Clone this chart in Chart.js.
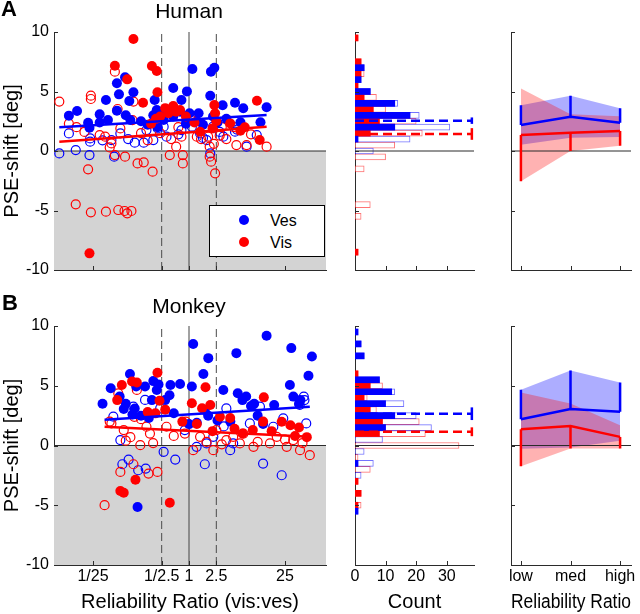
<!DOCTYPE html>
<html>
<head>
<meta charset="utf-8">
<script src="https://cdn.jsdelivr.net/npm/chart.js@4.4.0/dist/chart.umd.min.js"></script>
<style>
  body { margin: 0; background: #fff; font-family: "Liberation Sans", Arial, sans-serif; }
  #fig { position: relative; width: 640px; height: 614px; overflow: hidden; }
  #fig canvas { position: absolute; }
  .lbl { position: absolute; white-space: nowrap; line-height: 1; color: #000; }
  .legend { position: absolute; left: 209px; top: 205px; width: 116px; height: 52px;
            box-sizing: border-box; border: 1px solid #000; background: #fff; }
  .legend .dot { position: absolute; width: 10px; height: 10px; border-radius: 50%; }
  .legend .txt { position: absolute; font-size: 16px; line-height: 1; }
</style>
</head>
<body>
<div id="fig">
  <canvas id="scatterA" width="335" height="290" style="left:0;top:0"></canvas>
  <canvas id="histA" width="150" height="290" style="left:335px;top:0"></canvas>
  <canvas id="sumA" width="155" height="290" style="left:485px;top:0"></canvas>
  <canvas id="scatterB" width="335" height="324" style="left:0;top:290px"></canvas>
  <canvas id="histB" width="150" height="324" style="left:335px;top:290px"></canvas>
  <canvas id="sumB" width="155" height="324" style="left:485px;top:290px"></canvas>

  <div class="lbl" style="left:1px;top:-2px;font-size:22px;font-weight:bold">A</div>
  <div class="lbl" style="left:189px;top:0;font-size:21px;transform:translateX(-50%)">Human</div>
  <div class="lbl" style="left:2px;top:292px;font-size:22px;font-weight:bold">B</div>
  <div class="lbl" style="left:189px;top:295px;font-size:21px;transform:translateX(-50%)">Monkey</div>

  <div class="legend">
    <span class="dot" style="left:29px;top:9px;background:#0000ff"></span>
    <span class="txt" style="left:60px;top:7px">Ves</span>
    <span class="dot" style="left:29px;top:31px;background:#ff0000"></span>
    <span class="txt" style="left:60px;top:29px">Vis</span>
  </div>
</div>

<script>
// ---- scatter data: [reliability ratio (vis:ves), PSE shift in deg] ----
const humanVesSig = [[0.0178,2.97],[0.0234,3.36],[0.0339,2.38],[0.0355,1.96],[0.05,3.08],[0.0617,4.29],[0.066,2.6],
  [0.0891,5.69],[0.0955,4.76],[0.117,6.19],[0.0891,3.39],[0.135,4.2],[0.155,4.93],[0.12,3.0],[0.316,4.29],[0.339,3.45],
  [0.302,3.0],[0.589,5.29],[0.776,4.29],[0.933,5.01],[1.12,6.89],[1.02,3.17],[1.38,3.17],[0.589,2.9],[2.09,6.67],
  [2.34,7.0],[2.04,4.65],[3.09,3.84],[4.68,4.06],[6.17,3.59],[5.62,2.41],[11.0,2.41],[13.5,3.67],[2.24,2.9],[1.6,2.2],
  [0.427,2.6],[0.74,3.3],[0.25,2.2],[0.45,3.5],[1.3,2.5],[2.6,2.4],[3.5,2.7],[0.2,2.5],[0.9,2.3],[0.05,2.4],[0.35,2.0],[0.14,2.6]];
const humanVesNs = [[0.0129,-0.2],[0.0224,0.08],[0.0178,1.48],[0.0363,1.06],[0.0363,0.78],[0.0355,-0.34],[0.0813,-0.48],
  [0.0741,0.92],[0.1,1.48],[0.162,0.7],[0.219,0.7],[0.24,1.76],[0.302,0.92],[0.427,2.04],[0.47,1.2],[0.776,1.76],
  [1.1,2.04],[2.04,-0.2],[1.81,0.92],[3.16,1.2],[4.68,1.62],[6.9,0.36],[9.7,1.34],[1.45,1.48],[2.24,2.04],
  [0.055,0.9],[0.13,1.0],[0.7,1.4],[0.35,1.9],[1.6,1.1],[2.8,1.6],[5.0,1.8]];
const humanVisSig = [[0.155,9.41],[0.0832,7.17],[0.126,6.02],[0.288,7.14],[0.339,6.72],[0.347,4.93],[0.214,4.06],
  [0.589,3.78],[0.741,3.45],[0.501,3.17],[0.38,2.9],[0.33,2.7],[2.34,3.87],[2.4,3.17],[1.45,1.62],[3.98,2.32],
  [9.77,4.23],[10.7,0.92],[0.0355,-8.6],[2.5,2.5],[1.2,2.4],[5.6,1.7],[0.45,3.6],[0.65,3.3],[0.9,2.9],[2.2,1.9],
  [6.5,2.0],[0.28,2.3]];
const humanVisNs = [[0.0129,4.15],[0.0178,2.3],[0.0372,4.65],[0.0372,4.37],[0.0339,-1.54],[0.0224,-4.48],[0.0372,-5.15],
  [0.0617,-5.1],[0.0933,-4.96],[0.115,-5.04],[0.126,-5.24],[0.145,-5.04],[0.0832,6.67],[0.0912,3.53],[0.155,4.15],
  [0.15,2.6],[0.05,1.34],[0.0741,0.64],[0.0832,-0.34],[0.117,-0.48],[0.178,-1.04],[0.219,-0.95],[0.295,-1.74],
  [0.525,-0.34],[0.65,0.36],[0.813,-0.34],[0.813,-1.04],[0.776,1.2],[1.1,2.6],[1.3,1.2],[2.0,0.36],[2.0,-0.48],
  [2.1,-0.9],[2.4,-1.88],[1.9,1.2],[3.0,2.0],[4.9,0.5],[6.9,0.5],[13.5,0.36],[4.5,2.0],[0.023,2.0],[0.03,1.6],
  [0.06,1.2],[0.07,0.3],[0.1,1.9],[0.2,1.5],[0.25,0.9],[0.38,1.5],[0.42,3.3],[0.55,1.0],[0.7,2.0],[1.5,1.0],
  [2.3,0.6],[2.8,1.3],[3.5,1.0],[8.0,1.4]];
const humanVesFit = [[0.0129,1.99],[13.5,3.03]];
const humanVisFit = [[0.0129,0.78],[13.5,2.04]];

const monkeyVesSig = [[0.055,3.5],[0.0724,4.79],[0.0977,4.09],[0.112,3.05],[0.138,5.99],[0.17,4.93],[0.162,3.1],
  [0.229,4.93],[0.302,5.39],[0.339,4.65],[0.288,3.8],[0.36,5.1],[0.45,3.8],[0.537,5.07],[0.52,4.2],[0.741,5.15],
  [1.15,8.49],[1.1,4.93],[1.62,5.99],[1.91,7.31],[1.7,2.97],[3.16,4.65],[4.9,7.73],[5.13,4.37],[6.0,3.8],[6.8,4.1],
  [8.0,3.3],[8.9,3.5],[13.5,9.18],[17.4,3.39],[30.9,8.15],[29.5,5.07],[55.0,5.83],[61.7,7.45],[33.1,4.09],[42,3.8],
  [0.178,-5.15],[1.0,1.79],[1.9,2.5],[0.2,2.5],[0.26,2.3],[0.6,2.7],[1.3,1.9],[2.6,2.1],[4.0,2.0],[10,2.5],[12,1.8],
  [40,3.5],[0.15,2.6],[0.12,3.5]];
const monkeyVesNs = [[0.1,0.45],[0.107,-1.57],[0.132,-1.18],[0.182,-2.07],[0.234,-1.93],[0.427,-0.53],[0.631,-1.18],
  [1.7,-1.57],[3.98,-0.39],[22.4,-2.49],[12.0,-1.51],[0.079,2.41],[0.155,3.25],[0.229,3.81],[0.38,3.1],[3.5,3.1],
  [7.7,1.85],[10.8,3.25],[16.9,1.57],[23.6,2.27],[47,4.09],[51,1.85],[1.8,0.17],[2.26,0.73],[0.87,1.29],[4.4,0.17],
  [1.29,-0.11],[48,3.8],[41,3.4],[3.2,1.6]];
const monkeyVisSig = [[0.105,5.07],[0.148,5.35],[0.174,5.27],[0.347,6.09],[0.372,3.75],[0.324,2.69],[1.1,3.53],
  [1.55,3.11],[1.74,4.87],[2.04,3.39],[2.82,2.41],[3.98,2.3],[4.6,1.4],[12.3,4.03],[12,2.0],[16,1.2],[22.4,1.99],
  [30,1.7],[40,1.5],[52,0.7],[0.1,-3.81],[0.112,-3.95],[0.166,-2.86],[0.525,-4.79],[0.09,3.8],[0.25,2.8],[0.45,3.0],
  [0.8,2.0],[1.3,1.8],[2.2,1.2],[6.0,1.0],[8.5,1.3],[35,0.8]];
const monkeyVisNs = [[0.0589,-4.99],[0.0741,1.85],[0.0933,4.37],[0.1,-2.21],[0.155,-1.57],[0.195,0.03],[0.257,-2.35],
  [0.347,-2.21],[0.174,4.65],[1.15,-0.39],[2.26,-0.39],[3.5,0.45],[5.5,0.17],[8.7,-0.11],[15.1,0.17],[26.5,-0.11],
  [41.4,-0.39],[57.5,-0.81],[0.87,1.0],[1.45,0.73],[2.5,1.29],[4.4,0.73],[6.2,1.0],[19,0.73],[33,0.45],[0.112,1.29],
  [0.24,1.57],[0.27,1.0],[0.47,1.57],[0.12,0.4],[0.14,0.7],[0.2,2.2],[0.3,0.2],[0.6,0.8],[0.9,2.0],[1.8,0.3],
  [3.0,0.1],[10,0.3],[25,0.5],[45,0.2],[0.07,2.0],[0.16,2.4]];
const monkeyVesFit = [[0.0589,2.16],[57.5,3.25]];
const monkeyVisFit = [[0.0589,1.57],[57.5,0.73]];

// ---- histograms: bin centre (deg), significant count, all count ----
const humanVesBins = [7, 6, 5, 4, 3, 2, 1, 0];
const humanVesSigCount = [3, 2, 5, 13, 18, 13, 1, 0];
const humanVesAllCount = [3, 2, 5, 14, 21, 31, 18, 6];
const humanVisBins = [9.5, 7.5, 6.5, 5.5, 4.5, 3.5, 2.5, 1.5, 0.5, -0.5, -1.5, -4.5, -5.5, -8.5];
const humanVisSigCount = [1, 2, 2, 1, 3, 6, 8, 5, 0, 0, 0, 0, 0, 1];
const humanVisAllCount = [1, 2, 3, 1, 7, 10, 20, 22, 13, 10, 3, 5, 2, 1];
const humanShiftMean = [2.55, 1.43];   // ves, vis
const humanShiftSem = [0.27, 0.49];

const monkeyVesBins = [9.5, 8.5, 7.5, 5.5, 4.5, 3.5, 2.5, 1.5, 0.5, -0.5, -1.5, -2.5, -5.5];
const monkeyVesSigCount = [1, 2, 3, 8, 12, 10, 13, 10, 0, 0, 1, 0, 1];
const monkeyVesAllCount = [1, 2, 3, 8, 13, 16, 20, 25, 9, 3, 6, 2, 1];
const monkeyVisBins = [6, 5, 4, 3, 2, 1, 0, -1, -2, -3, -4, -5];
const monkeyVisSigCount = [1, 5, 3, 5, 9, 8, 0, 0, 0, 1, 2, 1];
const monkeyVisAllCount = [1, 9, 4, 7, 21, 23, 34, 1, 5, 1, 2, 2];
const monkeyShiftMean = [2.66, 1.15];
const monkeyShiftSem = [0.53, 0.37];

// ---- shift by reliability ratio: mean and sd ----
const relLabels = ['low', 'med', 'high'];
const humanVesMean = [2.18, 2.88, 2.38];
const humanVesSd = [1.66, 1.77, 1.21];
const humanVisMean = [1.35, 1.54, 1.68];
const humanVisSd = [3.9, 1.54, 1.23];
const monkeyVesMean = [2.19, 3.06, 2.83];
const monkeyVesSd = [2.47, 3.22, 2.44];
const monkeyVisMean = [1.35, 1.63, 0.72];
const monkeyVisSd = [3.09, 1.88, 0.97];

// ---- axes ----
const shiftTicks = [-10, -5, 0, 5, 10];
const ratioTicks = [0.04, 0.4, 1, 2.5, 25];
const ratioLabels = ['1/25', '1/2.5', '1', '2.5', '25'];
const ratioRange = [0.0108, 99];
const ratioGuides = [0.4, 2.5];
const countTicks = [0, 10, 20, 30];
const countRange = [0, 38.9];
const meanMarkAt = 38.2;
const relTicks = [1, 2, 3];
const relRange = [0.8, 3.22];

const BLUE = '#0000ff', RED = '#ff0000', AXIS = '#2b2b2b';
Chart.defaults.font.family = '"Liberation Sans", Arial, Helvetica, sans-serif';
Chart.defaults.font.size = 16;
Chart.defaults.color = '#000';

// MATLAB style tick marks pointing into the axes
const inTicks = {
  id: 'inTicks',
  afterDatasetsDraw(chart) {
    const { ctx, chartArea: a, scales } = chart;
    ctx.save();
    ctx.strokeStyle = AXIS;
    ctx.lineWidth = 1;
    ctx.beginPath();
    scales.x.ticks.forEach(t => {
      const px = Math.round(scales.x.getPixelForValue(t.value)) + 0.5;
      ctx.moveTo(px, a.bottom); ctx.lineTo(px, a.bottom - 4);
    });
    scales.y.ticks.forEach(t => {
      const py = Math.round(scales.y.getPixelForValue(t.value)) + 0.5;
      ctx.moveTo(a.left, py); ctx.lineTo(a.left + 4, py);
    });
    ctx.stroke();
    ctx.restore();
  }
};

function axisX(type, range, vals, labels, height, title) {
  return {
    type, min: range[0], max: range[1], offset: false,
    grid: { display: false, drawTicks: false, offset: false },
    border: { color: AXIS },
    afterBuildTicks: sc => { sc.ticks = vals.map(v => ({ value: v })); },
    afterFit: sc => { sc.height = height; },
    ticks: { display: !!labels, autoSkip: false, maxRotation: 0, minRotation: 0, padding: 2,
             callback: (v, i) => labels ? labels[i] : '' },
    title: { display: !!title, text: title || '', font: { size: 20 }, padding: 0 }
  };
}

function axisY(width, labelled) {
  return {
    type: 'linear', min: -10, max: 10, offset: false,
    grid: { display: false, drawTicks: false, offset: false },
    border: { color: AXIS },
    afterBuildTicks: sc => { sc.ticks = shiftTicks.map(v => ({ value: v })); },
    afterFit: sc => { sc.width = width; },
    ticks: { display: labelled, padding: 5 },
    title: { display: labelled, text: 'PSE-shift [deg]', font: { size: 20 }, padding: 0 }
  };
}

function baseOptions(top, right, scales) {
  return {
    responsive: false, animation: false, events: [],
    layout: { padding: { top, right, left: 0, bottom: 0 } },
    plugins: { legend: { display: false }, tooltip: { enabled: false } },
    scales
  };
}

const pts = arr => arr.map(([x, y]) => ({ x, y }));
const seg = (x0, y0, x1, y1) => [{ x: x0, y: y0 }, { x: x1, y: y1 }];
const line = (data, color, width, order, extra) =>
  Object.assign({ type: 'line', data, borderColor: color, borderWidth: width, pointRadius: 0,
                  fill: false, indexAxis: 'x', order }, extra || {});

function dots(arr, color, filled, order) {
  return {
    type: 'scatter', data: pts(arr), order,
    pointRadius: filled ? 5 : 4.5,
    backgroundColor: filled ? color : 'transparent',
    borderColor: color, borderWidth: filled ? 0 : 1.2
  };
}

function scatterChart(id, d, top, bottomAxis) {
  new Chart(document.getElementById(id), {
    type: 'scatter',
    data: {
      datasets: [
        line(seg(ratioRange[0], 0, ratioRange[1], 0), AXIS, 1, 20, { fill: 'start', backgroundColor: '#d3d3d3' }),
        ...ratioGuides.map(g => line(seg(g, -10, g, 10), '#4a4a4a', 1, 19, { borderDash: [8, 4] })),
        line(seg(1, -10, 1, 10), '#444', 1, 19),
        dots(d.vesNs, BLUE, false, 8),
        dots(d.visNs, RED, false, 7),
        dots(d.vesSig, BLUE, true, 6),
        dots(d.visSig, RED, true, 5),
        line(pts(d.vesFit), BLUE, 2.5, 1),
        line(pts(d.visFit), RED, 2.5, 0)
      ]
    },
    options: baseOptions(top, 9, {
      x: axisX('logarithmic', ratioRange, ratioTicks, bottomAxis ? ratioLabels : null,
               bottomAxis ? 49 : 20, bottomAxis ? 'Reliability Ratio (vis:ves)' : null),
      y: axisY(54, true)
    }),
    plugins: [inTicks]
  });
}

function bars(bins, counts, color, filled, order) {
  return {
    type: 'bar', indexAxis: 'y', grouped: false, barThickness: 6, order,
    data: bins.map((y, i) => ({ x: counts[i], y })).filter(p => p.x > 0),
    backgroundColor: filled ? color : '#fff',
    borderColor: filled ? color : (color === BLUE ? 'rgba(0,0,255,0.55)' : 'rgba(255,0,0,0.55)'),
    borderWidth: filled ? 0 : 1, borderSkipped: false
  };
}

function histChart(id, h, top, bottomAxis) {
  const markers = [[h.mean[0], h.sem[0], BLUE], [h.mean[1], h.sem[1], RED]].flatMap(([m, s, c]) => [
    line(seg(countRange[0], m, meanMarkAt, m), c, 2.5, 0, { borderDash: [9, 5] }),
    line(seg(meanMarkAt, m - s, meanMarkAt, m + s), c, 2.5, 0)
  ]);
  new Chart(document.getElementById(id), {
    type: 'bar',
    data: {
      datasets: [
        bars(h.visBins, h.visAll, RED, false, 6),
        bars(h.vesBins, h.vesAll, BLUE, false, 5),
        bars(h.visBins, h.visSig, RED, true, 4),
        bars(h.vesBins, h.vesSig, BLUE, true, 3),
        line(seg(countRange[0], 0, countRange[1], 0), AXIS, 1, 1),
        ...markers
      ]
    },
    options: Object.assign(baseOptions(top, 11, {
      x: axisX('linear', countRange, countTicks, bottomAxis ? countTicks.map(String) : null,
               bottomAxis ? 49 : 20, bottomAxis ? 'Count' : null),
      y: axisY(20, false)
    }), { indexAxis: 'y' }),
    plugins: [inTicks]
  });
}

function summaryChart(id, s, top, bottomAxis) {
  const at = (m, sd, k) => relTicks.map((x, i) => ({ x, y: m[i] + k * sd[i] }));
  const errs = (m, sd, k) => relTicks.flatMap((x, i) => [{ x, y: m[i] }, { x, y: m[i] + k * sd[i] }, { x, y: null }]);
  const edge = { borderColor: 'transparent', borderWidth: 0 };
  new Chart(document.getElementById(id), {
    type: 'line',
    data: {
      datasets: [
        line(at(s.vesM, s.vesS, 1), 'transparent', 0, 9, edge),
        line(at(s.vesM, s.vesS, -1), 'transparent', 0, 8, Object.assign({ fill: '-1', backgroundColor: 'rgba(0,0,255,0.32)' }, edge)),
        line(at(s.visM, s.visS, 1), 'transparent', 0, 7, edge),
        line(at(s.visM, s.visS, -1), 'transparent', 0, 6, Object.assign({ fill: '-1', backgroundColor: 'rgba(255,0,0,0.3)' }, edge)),
        line(seg(relRange[0], 0, relRange[1], 0), AXIS, 1, 5),
        line(at(s.vesM, s.vesS, 0), BLUE, 2.5, 3),
        line(errs(s.vesM, s.vesS, 1), BLUE, 2.5, 3),
        line(at(s.visM, s.visS, 0), RED, 2.5, 2),
        line(errs(s.visM, s.visS, -1), RED, 2.5, 2)
      ]
    },
    options: baseOptions(top, 9, {
      x: axisX('linear', relRange, relTicks, bottomAxis ? relLabels : null,
               bottomAxis ? 49 : 20, bottomAxis ? 'Reliability Ratio' : null),
      y: axisY(26, false)
    }),
    plugins: [inTicks]
  });
}

scatterChart('scatterA', { vesSig: humanVesSig, vesNs: humanVesNs, visSig: humanVisSig, visNs: humanVisNs,
                           vesFit: humanVesFit, visFit: humanVisFit }, 32, false);
scatterChart('scatterB', { vesSig: monkeyVesSig, vesNs: monkeyVesNs, visSig: monkeyVisSig, visNs: monkeyVisNs,
                           vesFit: monkeyVesFit, visFit: monkeyVisFit }, 36, true);

histChart('histA', { vesBins: humanVesBins, vesSig: humanVesSigCount, vesAll: humanVesAllCount,
                     visBins: humanVisBins, visSig: humanVisSigCount, visAll: humanVisAllCount,
                     mean: humanShiftMean, sem: humanShiftSem }, 32, false);
histChart('histB', { vesBins: monkeyVesBins, vesSig: monkeyVesSigCount, vesAll: monkeyVesAllCount,
                     visBins: monkeyVisBins, visSig: monkeyVisSigCount, visAll: monkeyVisAllCount,
                     mean: monkeyShiftMean, sem: monkeyShiftSem }, 36, true);

summaryChart('sumA', { vesM: humanVesMean, vesS: humanVesSd, visM: humanVisMean, visS: humanVisSd }, 32, false);
summaryChart('sumB', { vesM: monkeyVesMean, vesS: monkeyVesSd, visM: monkeyVisMean, visS: monkeyVisSd }, 36, true);
</script>
</body>
</html>
